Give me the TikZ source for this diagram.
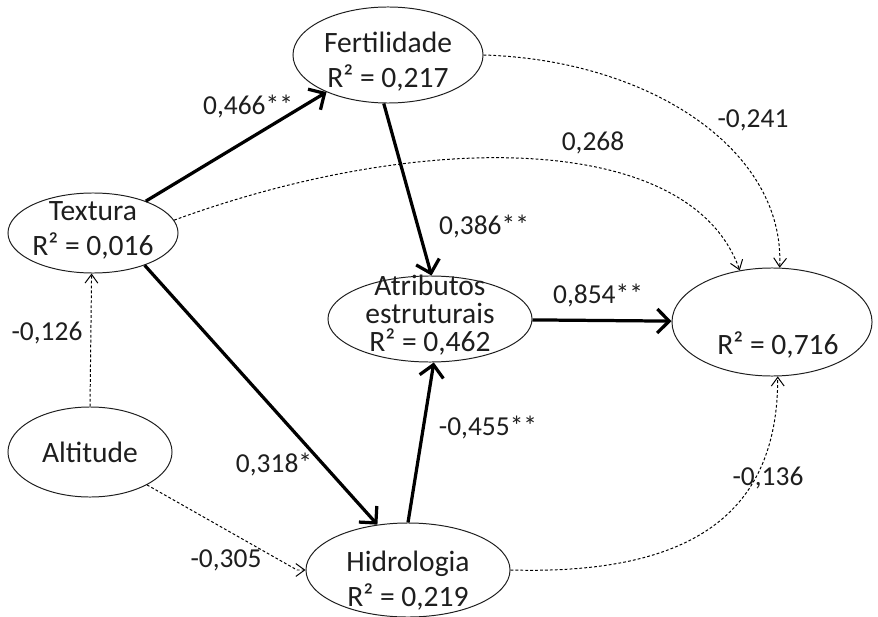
\documentclass[tikz,border=0pt]{standalone}
\usepackage{fontspec}
\setmainfont{Carlito}
\usepackage{xcolor}
\usetikzlibrary{arrows.meta,shapes.geometric}
\definecolor{inkgray}{RGB}{30,30,30}
\begin{document}
\begin{tikzpicture}[x=0.025cm, y=-0.025cm,
  latent/.style={ellipse, draw=inkgray, line width=0.7pt, inner sep=0pt},
  caption/.style={align=center, font=\fontsize{21}{25}\selectfont, text=inkgray},
  coef/.style={font=\fontsize{19.5}{23}\selectfont, text=inkgray},
  strong/.style={line width=2.3pt, -{Straight Barb[length=3mm,width=6mm]}},
  weak/.style={line width=0.7pt, dash pattern=on 2pt off 1.5pt, -{Straight Barb[length=2.2mm,width=3.2mm]}}]
  \useasboundingbox (0,0) rectangle (878,616);
  \node[latent, minimum width=4.75cm, minimum height=2.4cm] (fert) at (388,55) {};
  \node[caption] (fertT) at (388,62) {Fertilidade\\R² = 0,217};
  \node[latent, minimum width=4.25cm, minimum height=2cm] (tex) at (93,233) {};
  \node[caption] (texT) at (93,230) {Textura\\R² = 0,016};
  \node[latent, minimum width=4.1cm, minimum height=2.25cm] (alt) at (90,452) {};
  \node[caption] (altT) at (90,452) {Altitude};
  \node[latent, minimum width=5.1cm, minimum height=2.15cm] (atr) at (430,319) {};
  \node[caption, font=\fontsize{21}{20}\selectfont] (atrT) at (430,315) {Atributos\\estruturais\\R² = 0,462};
  \node[latent, minimum width=5cm, minimum height=2.7cm] (prod) at (772,322) {};
  \node[caption] (prodT) at (778,345) {R² = 0,716};
  \node[latent, minimum width=5.1cm, minimum height=2.35cm] (hid) at (408,570) {};
  \node[caption] (hidT) at (408,581) {Hidrologia\\R² = 0,219};
  \draw[strong] (tex) -- (fert);
  \draw[strong] (tex.-32) -- (hid.124);
  \draw[strong] (fert.-95) -- (atr.88);
  \draw[strong] (hid.90) -- (atr.-85);
  \draw[strong] (atr) -- (prod);
  \draw[weak] (alt.90) -- (tex.-92);
  \draw[weak] (alt.-30) -- ([xshift=-6pt]hid.west) -- (hid.west);
  \draw[weak] (tex.9) .. controls (420,130) and (690,130) .. (prod.122);
  \draw[weak] (fert.east) .. controls (650,60) and (785,150) .. (prod.82);
  \draw[weak] (hid.east) .. controls (690,575) and (778,515) .. (prod.-84);
  \node[coef] (c466) at (248,107) {0,466**};
  \node[coef] (c318) at (274,465) {0,318*};
  \node[coef] (c386) at (484,227) {0,386**};
  \node[coef] (c854) at (598,296) {0,854**};
  \node[coef] (c455) at (488,428) {-0,455**};
  \node[coef] (c126) at (47,333) {-0,126};
  \node[coef] (c305) at (226,560) {-0,305};
  \node[coef] (c268) at (593,143) {0,268};
  \node[coef] (c241) at (753,120) {-0,241};
  \node[coef] (c136) at (768,478) {-0,136};
\end{tikzpicture}
\end{document}
